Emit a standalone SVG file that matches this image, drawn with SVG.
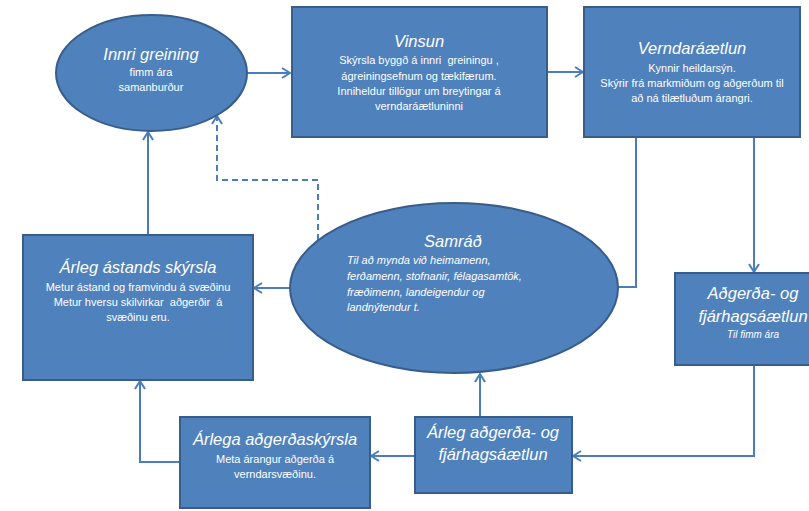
<svg xmlns="http://www.w3.org/2000/svg" width="809" height="511" viewBox="0 0 809 511">
<style>
.node{fill:#4F81BD;stroke:#385D8A;stroke-width:2}
.t{font-family:"Liberation Sans",Arial,sans-serif;fill:#ffffff;text-anchor:middle;white-space:pre}
.ti{font-size:16.5px;font-style:italic}
.tb{font-size:11px}
.tbi{font-size:11px;font-style:italic}
.c{fill:none;stroke:#4A7EBB;stroke-width:2}
.d{stroke-dasharray:6,4}
</style>
<defs>
<marker id="ah" viewBox="0 0 10 12" refX="9" refY="6" markerWidth="10" markerHeight="12" orient="auto" markerUnits="userSpaceOnUse">
<path d="M1,1 L9,6 L1,11" fill="none" stroke="#4A7EBB" stroke-width="2"/>
</marker>
</defs>
<rect width="809" height="511" fill="#ffffff"/>
<g id="connectors">
<path class="c" d="M247,73 L290,73" marker-end="url(#ah)"/>
<path class="c" d="M547,72 L583,72" marker-end="url(#ah)"/>
<path class="c" d="M636,137 L636,287 L618,287"/>
<path class="c" d="M754,137 L754,272" marker-end="url(#ah)"/>
<path class="c" d="M754,365 L754,456 L573,456" marker-end="url(#ah)"/>
<path class="c" d="M480,417 L480,374" marker-end="url(#ah)"/>
<path class="c" d="M290,288 L254,288" marker-end="url(#ah)"/>
<path class="c" d="M148,235 L148,132" marker-end="url(#ah)"/>
<path class="c d" d="M318,240 L318,180 L217,180 L217,116" marker-end="url(#ah)"/>
<path class="c" d="M415,456 L371,456" marker-end="url(#ah)"/>
<path class="c" d="M180,462 L140,462 L140,381" marker-end="url(#ah)"/>
</g>
<g id="innri-greining">
<ellipse class="node" cx="151.5" cy="73" rx="95.5" ry="58"/>
<text class="t ti" x="151" y="60">Innri greining</text>
<text class="t tb" x="151" y="76">fimm ára</text>
<text class="t tb" x="151" y="91">samanburður</text>
</g>
<g id="vinsun">
<rect class="node" x="292" y="7" width="255" height="130"/>
<text class="t ti" x="419" y="47">Vinsun</text>
<text class="t tb" x="419" y="64" xml:space="preserve">Skýrsla byggð á innri  greiningu ,</text>
<text class="t tb" x="419" y="80">ágreiningsefnum og tækifærum.</text>
<text class="t tb" x="419" y="95">Inniheldur tillögur um breytingar á</text>
<text class="t tb" x="419" y="110">verndaráætluninni</text>
</g>
<g id="verndaraaetlun">
<rect class="node" x="584" y="7" width="216" height="130"/>
<text class="t ti" x="692" y="54">Verndaráætlun</text>
<text class="t tb" x="692" y="72">Kynnir heildarsýn.</text>
<text class="t tb" x="692" y="87">Skýrir frá markmiðum og aðgerðum til</text>
<text class="t tb" x="692" y="102">að ná tilætluðum árangri.</text>
</g>
<g id="arleg-astands-skyrsla">
<rect class="node" x="23" y="235" width="230" height="145"/>
<text class="t ti" x="138" y="273">Árleg ástands skýrsla</text>
<text class="t tb" x="138" y="291">Metur ástand og framvindu á svæðinu</text>
<text class="t tb" x="138" y="306" xml:space="preserve">Metur hversu skilvirkar  aðgerðir  á</text>
<text class="t tb" x="138" y="321">svæðinu eru.</text>
</g>
<g id="samrad">
<ellipse class="node" cx="454" cy="288" rx="164" ry="85"/>
<text class="t ti" x="453" y="247">Samráð</text>
<text class="t tbi" x="347" y="264" style="text-anchor:start">Til að mynda við heimamenn,</text>
<text class="t tbi" x="347" y="280" style="text-anchor:start">ferðamenn, stofnanir, félagasamtök,</text>
<text class="t tbi" x="347" y="296" style="text-anchor:start">fræðimenn, landeigendur og</text>
<text class="t tbi" x="347" y="311" style="text-anchor:start">landnýtendur t.</text>
</g>
<g id="adgerda-fjarhagsaaetlun">
<rect class="node" x="675" y="273" width="145" height="92"/>
<text class="t ti" x="753" y="299">Aðgerða- og</text>
<text class="t ti" x="753" y="322">fjárhagsáætlun</text>
<text class="t tbi" x="753" y="338" style="font-size:10px">Til fimm ára</text>
</g>
<g id="arleg-adgerda-fjarhagsaaetlun">
<rect class="node" x="415" y="417" width="157" height="76"/>
<text class="t ti" x="493" y="438">Árleg aðgerða- og</text>
<text class="t ti" x="493" y="460">fjárhagsáætlun</text>
</g>
<g id="arlega-adgerdaskyrsla">
<rect class="node" x="180" y="417" width="190" height="91"/>
<text class="t ti" x="275" y="445">Árlega aðgerðaskýrsla</text>
<text class="t tb" x="275" y="463">Meta árangur aðgerða á</text>
<text class="t tb" x="275" y="478">verndarsvæðinu.</text>
</g>
</svg>
